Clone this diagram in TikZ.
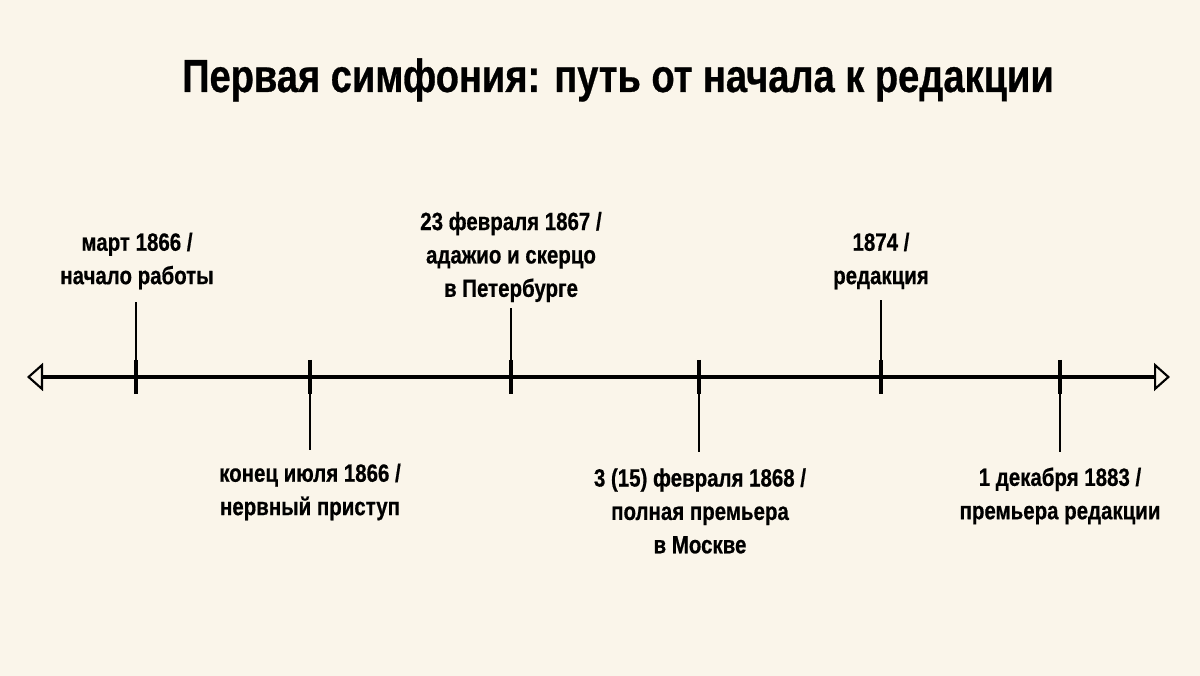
\documentclass[tikz,border=0pt]{standalone}
\usepackage{fontspec}
\setmainfont{Liberation Sans}[FakeStretch=0.82,BoldFeatures={FakeBold=0.6}]
\usetikzlibrary{arrows.meta}
\definecolor{paper}{RGB}{250,245,234}

\begin{document}
\begin{tikzpicture}
  [every node/.style={font=\bfseries\fontsize{7.1}{9.5}\selectfont,align=center,inner sep=0pt}]
  \fill[paper] (0,0) rectangle (12,6.76);
  \node[font=\bfseries\fontsize{13.2}{15}\selectfont] (title) at (6.18,5.96) {Первая симфония: путь от начала к редакции};
  % axis
  \coordinate (al) at (0.27,2.99);
  \coordinate (ar) at (11.70,2.99);
  \draw[line width=1.4pt,{Triangle[open,length=0.16cm,width=0.28cm,line width=0.6pt]}-{Triangle[open,length=0.16cm,width=0.28cm,line width=0.6pt]}] (al) -- (ar);
  \coordinate (ta) at (1.36,2.99);
  \coordinate (tb) at (3.10,2.99);
  \coordinate (tc) at (5.11,2.99);
  \coordinate (td) at (6.99,2.99);
  \coordinate (te) at (8.81,2.99);
  \coordinate (tf) at (10.60,2.99);
  \foreach \t in {ta,tb,tc,td,te,tf}
    \draw[line width=1.4pt] ([yshift=0.17cm]\t) -- ([yshift=-0.17cm]\t);
  % stems
  \coordinate (sa) at (1.36,3.74);
  \coordinate (sb) at (3.10,2.26);
  \coordinate (sc) at (5.11,3.68);
  \coordinate (sd) at (6.99,2.24);
  \coordinate (se) at (8.81,3.76);
  \coordinate (sf) at (10.60,2.24);
  \foreach \from/\to in {ta/sa,tb/sb,tc/sc,td/sd,te/se,tf/sf}
    \draw[line width=0.45pt] (\from) -- (\to);
  % labels
  \node (la) at (1.37,4.15) {март 1866 /\\начало работы};
  \node (lb) at (3.10,1.84) {конец июля 1866 /\\нервный приступ};
  \node (lc) at (5.11,4.19) {23 февраля 1867 /\\адажио и скерцо\\в Петербурге};
  \node (ld) at (7.00,1.65) {3 (15) февраля 1868 /\\полная премьера\\в Москве};
  \node (le) at (8.81,4.15) {1874 /\\редакция};
  \node (lf) at (10.60,1.80) {1 декабря 1883 /\\премьера редакции};
\end{tikzpicture}
\end{document}
